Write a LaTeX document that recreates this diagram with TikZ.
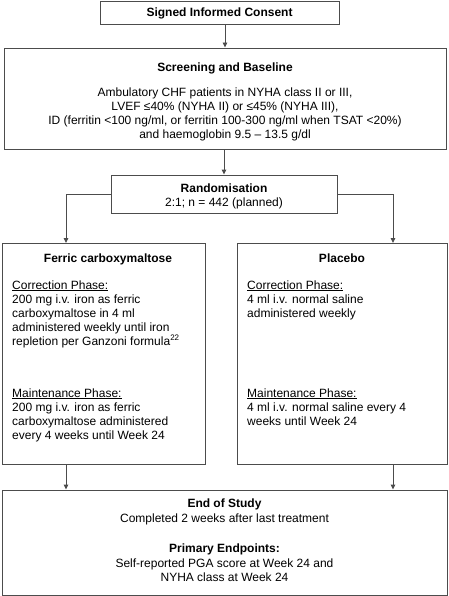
\documentclass[tikz,border=0pt]{standalone}
\usepackage{fontspec}
\setmainfont{Liberation Sans}
\usetikzlibrary{arrows.meta,calc}
\definecolor{linegray}{gray}{0.3}

\begin{document}
\begin{tikzpicture}[
    x=1pt, y=-1pt,
    >={Triangle[length=5pt,width=4.5pt]},
    every node/.style={font=\fontsize{12}{14}\selectfont, inner sep=0pt},
    box/.style={draw=linegray, line width=0.9pt, rectangle},
    head/.style={font=\fontsize{12}{14}\selectfont\bfseries, anchor=base},
    body/.style={align=center, anchor=base},
    armtext/.style={align=left, anchor=base west},
    link/.style={->, draw=linegray, line width=0.9pt}
]

\useasboundingbox (0,0) rectangle (448,596);

%======================
% Boxes
%======================

\node[box, minimum width=239pt, minimum height=23pt]  (consent) at (219.5,12.5) {};
\node[box, minimum width=442pt, minimum height=101pt] (screen)  at (225,98.5) {};
\node[box, minimum width=226pt, minimum height=38pt]  (random)  at (224,194) {};
\node[box, minimum width=203pt, minimum height=221pt] (fcm)     at (103.5,353.5) {};
\node[box, minimum width=210pt, minimum height=221pt] (placebo) at (342,353.5) {};
\node[box, minimum width=445pt, minimum height=105pt] (eos)     at (224.5,542.5) {};

\coordinate (fcmin) at (66,243);
\coordinate (plcin) at (393,243);

%======================
% Arrows
%======================

\draw[link] (consent.south -| screen.north) -- (screen.north);
\draw[link] (screen.south -| random.north) -- (random.north);

% Two arms
\draw[link] (random.west) -| (fcmin);
\draw[link] (random.east) -| (plcin);

% Down to end of study
\draw[link] (fcm.south -| fcmin) -- (eos.north -| fcmin);
\draw[link] (placebo.south -| plcin) -- (eos.north -| plcin);

%======================
% Texts (multi-line ones sit on their last line)
%======================

\node[head] (consenttxt) at (219.5,17) {Signed Informed Consent};

\node[head] (screentxt) at (225,72) {Screening and Baseline};
\node[body] (screenbody) at (225,139)
  {Ambulatory CHF patients in NYHA class II or III,\\
   LVEF ≤40\% (NYHA II) or ≤45\% (NYHA III),\\
   ID (ferritin <100 ng/ml, or ferritin 100-300 ng/ml when TSAT <20\%)\\
   and haemoglobin 9.5 – 13.5 g/dl};

\node[head] (randomtxt) at (224,192) {Randomisation};
\node[body] (randombody) at (224,206) {2:1; n = 442 (planned)};

% Ferric carboxymaltose arm
\node[head] (fcmtxt) at (108,262) {Ferric carboxymaltose};
\node[armtext] (fcmcorr) at (12,345)
  {\underline{Correction Phase:}\\
   200 mg i.v. iron as ferric\\
   carboxymaltose in 4 ml\\
   administered weekly until iron\\
   repletion per Ganzoni formula\textsuperscript{22}};
\node[armtext] (fcmmaint) at (12,439)
  {\underline{Maintenance Phase:}\\
   200 mg i.v. iron as ferric\\
   carboxymaltose administered\\
   every 4 weeks until Week 24};

% Placebo arm
\node[head] (placebotxt) at (342,262) {Placebo};
\node[armtext] (plccorr) at (247,317)
  {\underline{Correction Phase:}\\
   4 ml i.v. normal saline\\
   administered weekly};
\node[armtext] (plcmaint) at (247,425)
  {\underline{Maintenance Phase:}\\
   4 ml i.v. normal saline every 4\\
   weeks until Week 24};

% End of study
\node[head] (eostxt) at (224.5,507) {End of Study};
\node[body] (eosbody) at (224.5,522) {Completed 2 weeks after last treatment};
\node[head] (endpointtxt) at (224.5,552) {Primary Endpoints:};
\node[body] (endpointbody) at (224.5,581)
  {Self-reported PGA score at Week 24 and\\
   NYHA class at Week 24};

\end{tikzpicture}
\end{document}
